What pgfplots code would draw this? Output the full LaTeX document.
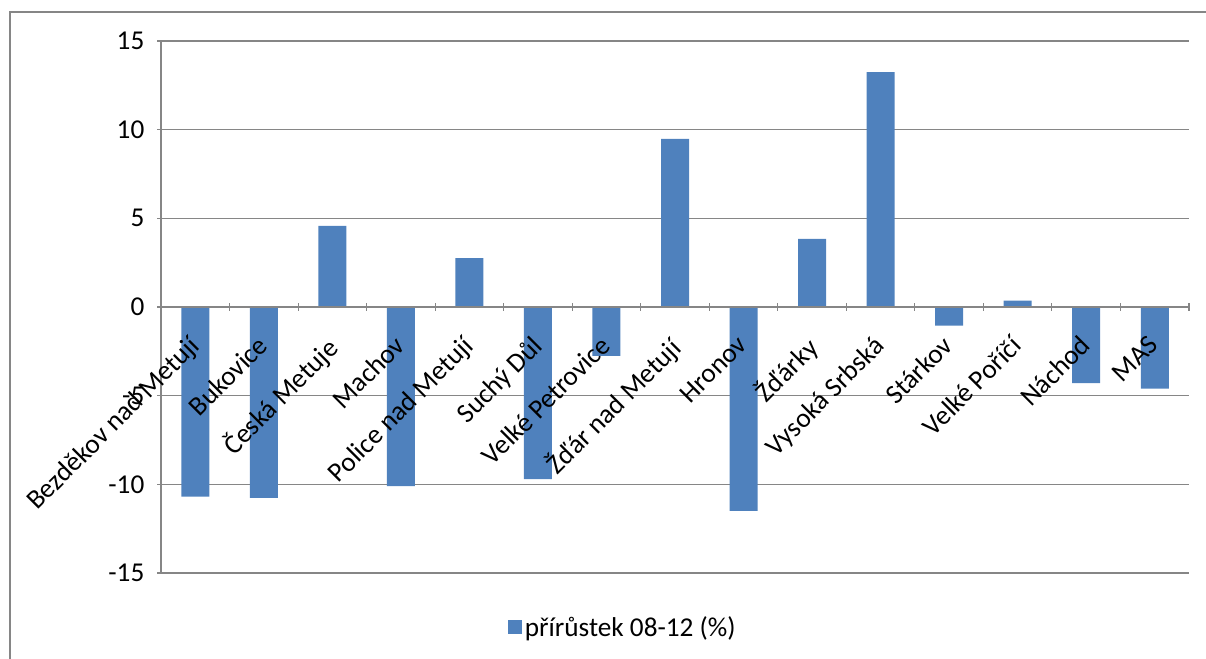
\documentclass[border=0pt]{standalone}
\usepackage{fontspec}
\setmainfont{Carlito}
\usepackage{pgfplots}
\pgfplotsset{compat=1.18}
\definecolor{barblue}{HTML}{4F81BD}
\definecolor{axgray}{HTML}{868686}
\pgfplotsset{
    base/.style={
        at={(120.75bp,64.5bp)}, anchor=south west,
        scale only axis, width=771bp, height=399bp,
        xmin=0.5, xmax=15.5, ymin=-15, ymax=15,
        tick align=outside,
        major tick length=6bp,
        tick style={axgray, line width=0.8bp},
    },
}
\begin{document}
\begin{tikzpicture}[x=1bp,y=1bp]
\useasboundingbox (0,0) rectangle (904.5,494.25);
\draw[axgray, line width=1bp] (7.5,-5) rectangle (915,485.25);
% bars, grid, y axis, legend
\begin{axis}[
    base,
    axis x line=none, axis y line=left,
    axis line style={-, axgray, line width=0.8bp},
    ytick={-15,-10,...,15},
    ymajorgrids=true,
    grid style={axgray, line width=0.8bp},
    /pgf/number format/assume math mode=true,
    y tick label style={font=\fontsize{20.5}{24}\selectfont, xshift=-6bp},
    legend style={draw=none, at={(0.3375,-0.102)}, anchor=west, inner sep=0pt,
        font=\fontsize{20.5}{24}\selectfont},
    legend image code/.code={\fill[barblue] (-4.5bp,-5.25bp) rectangle (6bp,5.25bp);},
]
\addplot[ybar, bar width=21bp, fill=barblue, draw=none] coordinates {
    (1,-10.7) (2,-10.77) (3,4.57) (4,-10.1) (5,2.76) (6,-9.7) (7,-2.76) (8,9.48)
    (9,-11.5) (10,3.84) (11,13.25) (12,-1.05) (13,0.36) (14,-4.3) (15,-4.6)
};
\addlegendentry{přírůstek 08-12 (\%)}
\end{axis}
% x axis at zero with category names, drawn over the bars
\begin{axis}[
    base,
    axis x line=middle, axis y line=none,
    axis line style={-, axgray, line width=0.8bp},
    xtick={0.5,1.5,...,15.5}, xticklabels={},
    extra x ticks={1,...,15},
    extra x tick labels={Bezděkov nad Metují, Bukovice, Česká Metuje, Machov, Police nad Metují, Suchý Důl, Velké Petrovice, Žďár nad Metují, Hronov, Žďárky, Vysoká Srbská, Stárkov, Velké Poříčí, Náchod, MAS},
    extra x tick style={major tick length=0pt, grid=none,
        tick label style={rotate=45, anchor=north east, font=\fontsize{20.5}{24}\selectfont, inner sep=1bp, xshift=-17.5bp, yshift=-9bp}},
]
\end{axis}
\end{tikzpicture}
\end{document}
